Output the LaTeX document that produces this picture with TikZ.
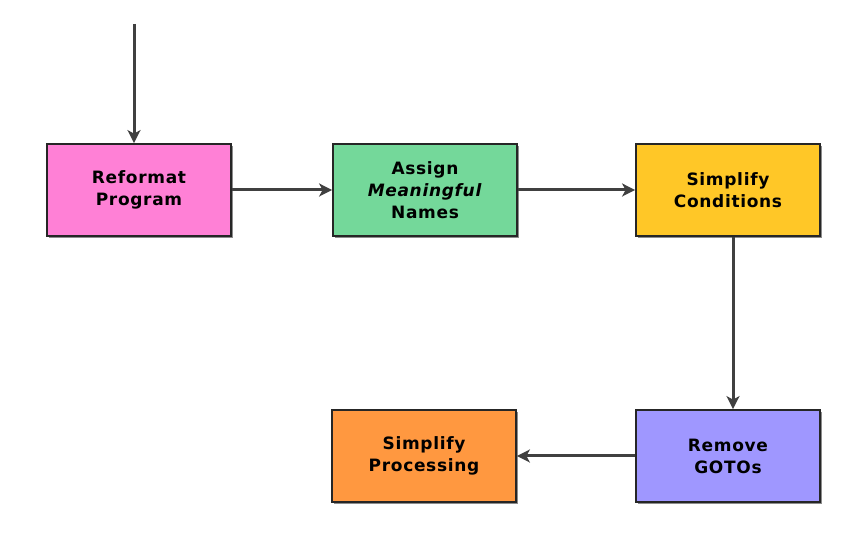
\documentclass[tikz,border=0pt]{standalone}
\usepackage{fontspec}
\newfontfamily\stepfont{DejaVu Sans}[LetterSpace=4]
\usetikzlibrary{arrows, arrows.meta}
\usetikzlibrary{shadows}

\begin{document}
\begin{tikzpicture}[x = 1pt, y = 1pt]
\tikzstyle{StepStyle}=[shape = rectangle,
                       minimum width = 184pt,
                       minimum height = 92pt,
                       align = center,
                       line width = 1.8pt,
                       draw = black!85,
                       drop shadow = {shadow xshift = 1.5pt, shadow yshift = -2pt, fill = black!45, opacity = 1},
                       font = \stepfont\bfseries\fontsize{17}{22}\selectfont]
\tikzstyle{FlowStyle}=[-{Stealth[length = 13pt, width = 13pt, inset = 3.5pt]}, line width = 3pt, draw = black!75]
\definecolor{reformatcol}{HTML}{FF80D6}
\definecolor{assigncol}{HTML}{74D89A}
\definecolor{condcol}{HTML}{FFC727}
\definecolor{gotocol}{HTML}{9F97FF}
\definecolor{proccol}{HTML}{FF9840}
\useasboundingbox (0, 0) rectangle (841, 554);
\coordinate (entry) at (134, 530);
\node[StepStyle, fill = reformatcol] (reformat) at (139, 364) {Reformat\\Program};
\node[StepStyle, fill = assigncol] (assign) at (425, 364) {Assign\\\textit{Meaningful}\\Names};
\node[StepStyle, fill = condcol] (conditions) at (728, 364) {Simplify\\Conditions};
\node[StepStyle, fill = gotocol] (gotos) at (728, 98) {Remove\\GOTOs};
\node[StepStyle, fill = proccol] (processing) at (424, 98) {Simplify\\Processing};
\draw[FlowStyle] (entry) -- (entry |- reformat.north);
\draw[FlowStyle] (reformat) -- (assign);
\draw[FlowStyle] (assign) -- (conditions);
\draw[FlowStyle] ([xshift = 5pt]conditions.south) -- ([xshift = 5pt]gotos.north);
\draw[FlowStyle] (gotos) -- (processing);
\end{tikzpicture}
\end{document}
